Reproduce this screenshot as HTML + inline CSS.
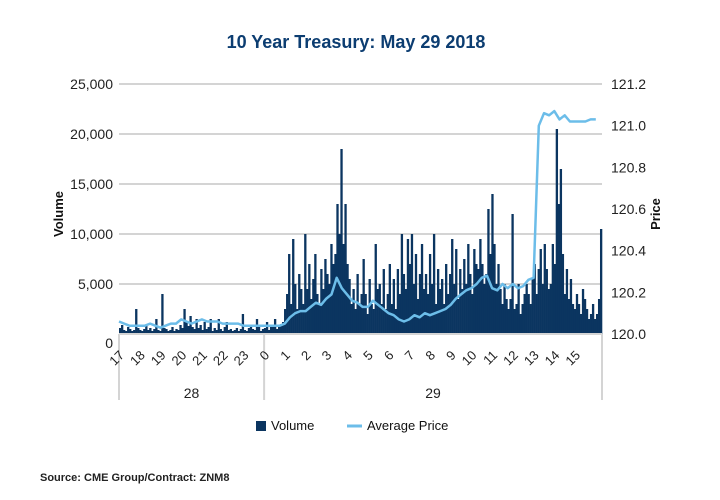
<!DOCTYPE html>
<html><head><meta charset="utf-8"><style>
body{margin:0;background:#fff;}
svg{display:block;font-family:"Liberation Sans",sans-serif;}
</style></head><body>
<svg id="chart" width="720" height="500">
<text x="356" y="48" text-anchor="middle" font-size="18" font-weight="bold" fill="#0c3d71">10 Year Treasury: May 29 2018</text>
<g id="grid"></g>
<g id="bars"></g>
<g id="line"></g>
<g id="axes"></g>
<text transform="translate(63,214) rotate(-90)" text-anchor="middle" font-size="13" font-weight="bold" fill="#111">Volume</text>
<text transform="translate(660,214) rotate(-90)" text-anchor="middle" font-size="13" font-weight="bold" fill="#111">Price</text>
<g>
<g><rect x="256" y="421" width="10" height="10" fill="#0b3560"/><text x="271" y="430" font-size="13" fill="#111">Volume</text></g>
<g><line x1="347" y1="426" x2="362" y2="426" stroke="#6cbde9" stroke-width="3"/><text x="367" y="430" font-size="13" fill="#111">Average Price</text></g>
</g>
<text x="40" y="481" font-size="11" font-weight="bold" fill="#222">Source: CME Group/Contract: ZNM8</text>
</svg>
<script>
const volumeTicks=[0,5000,10000,15000,20000,25000];
const volumeTickLabels=["0","5,000","10,000","15,000","20,000","25,000"];
const priceTicks=[120.0,120.2,120.4,120.6,120.8,121.0,121.2];
const priceTickLabels=["120.0","120.2","120.4","120.6","120.8","121.0","121.2"];
const hourLabels=["17","18","19","20","21","22","23","0","1","2","3","4","5","6","7","8","9","10","11","12","13","14","15"];
const dayLabels=["28","29"];
const volumeDay28=[600,900,400,300,700,500,300,400,2500,600,400,300,500,800,400,600,300,500,1500,400,300,4000,600,500,300,400,700,300,500,400,
900,600,2500,1200,800,1800,700,500,1500,600,900,400,1200,500,700,1500,300,600,400,1500,500,300,700,1200,400,500,300,400,600,300,
500,2000,400,300,600,900,500,400,1500,700,300,500];
const volumeDay29=[600,1200,400,900,700,1500,500,800,1000,1200,
2500,4000,8000,3000,9500,5000,2500,6000,4500,3000,
10000,4500,7000,3500,5500,8000,4000,3000,6500,4500,
7500,6000,5000,9000,7000,8000,13000,10000,18500,9000,
13000,7000,5500,3000,4500,2500,6000,3000,4000,7500,
4000,2000,5500,3000,2500,9000,4500,5000,3000,6500,
2500,4000,7000,3000,5500,2500,6500,4000,10000,6000,
4500,9500,7000,10000,5000,8000,3500,6000,9000,4500,
6000,4000,8000,5000,10000,3000,6500,4500,5500,3000,
7000,4000,6000,9500,5000,8500,3500,6500,4500,7500,
5000,9000,6000,4000,8500,7000,6500,9500,7000,5000,
6000,12500,8000,14000,9000,5000,7000,4500,3000,5000,
3500,2500,3500,12000,2500,3000,5000,2000,3000,4000,
5000,4000,3000,5500,7000,4000,6500,8500,5000,9000,
6500,4500,5000,9000,7000,20500,13000,16500,8000,4000,
6500,3500,5500,3000,2500,4000,3000,2000,4500,3500,
2500,1500,2000,3000,1500,2000,3500,10500];
const priceDay28=[120.06,120.05,120.04,120.04,120.04,120.04,120.05,120.04,120.03,120.04,120.05,120.05,120.07,120.06,120.05,120.06,120.07,120.06,120.06,120.06,120.05,120.05,120.05,120.05,120.04,120.04,120.04,120.04];
const priceDay29=[120.04,120.04,120.04,120.04,120.05,120.08,120.10,120.11,120.11,120.13,120.15,120.14,120.17,120.19,120.27,120.22,
120.19,120.16,120.15,120.13,120.13,120.16,120.14,120.12,120.10,120.09,120.07,120.06,120.07,120.09,120.08,120.10,
120.09,120.10,120.11,120.12,120.14,120.17,120.19,120.21,120.22,120.24,120.27,120.28,120.22,120.21,120.24,120.22,
120.24,120.22,120.23,120.26,120.27,121.00,121.06,121.05,121.07,121.03,121.05,121.02,121.02,121.02,121.02,121.03,121.03];

const NS="http://www.w3.org/2000/svg";
const X0=119,X1=602,Y0=334,Y1=84,HOURS=23.3;
const yVol=v=>Y0-(v/25000)*(Y0-Y1);
const yPrice=p=>Y0-((p-120)/1.2)*(Y0-Y1);
const xHour=h=>X0+h/HOURS*(X1-X0);
function mk(tag,attrs,parent,text){const e=document.createElementNS(NS,tag);for(const k in attrs)e.setAttribute(k,attrs[k]);if(text!==undefined)e.textContent=text;parent.appendChild(e);return e;}
const grid=document.getElementById('grid'),axes=document.getElementById('axes');
volumeTicks.forEach((v,i)=>{
 if(v>0){const g=mk('line',{x1:X0,x2:X1,y1:yVol(v),y2:yVol(v),stroke:'#d4d4d4','stroke-width':2},grid);
 
 }
 const t=mk('text',{x:113,y:yVol(v)+5+(v===0?9:0),'text-anchor':'end','font-size':14,fill:'#222'},axes,volumeTickLabels[i]);
 
 
});
priceTicks.forEach((p,i)=>{
 const t=mk('text',{x:611,y:yPrice(p)+5,'font-size':14,fill:'#222'},axes,priceTickLabels[i]);
 
 
});
const vols=volumeDay28.concat(volumeDay29);
const bars=document.getElementById('bars');
const bw=(X1-X0)/vols.length;
vols.forEach((v,i)=>{
 const r=mk('rect',{x:X0+i*bw,y:yVol(v),width:bw+0.3,height:Y0-yVol(v),fill:'#0b3560'},bars);
 
 
});
const prices=priceDay28.concat(priceDay29);
const pts=prices.map((p,i)=>xHour(i/4).toFixed(1)+','+yPrice(p).toFixed(1)).join(' ');
const pl=mk('polyline',{points:pts,fill:'none',stroke:'#6cbde9','stroke-width':2.5,'stroke-linejoin':'round'},document.getElementById('line'));


const base=mk('line',{x1:X0,x2:X1,y1:Y0,y2:Y0,stroke:'#d4d4d4','stroke-width':2},axes);


[0,7,HOURS].forEach(h=>{
 const l=mk('line',{x1:xHour(h),x2:xHour(h),y1:Y0,y2:400,stroke:'#d4d4d4','stroke-width':2},axes);
 
 
});
hourLabels.forEach((lab,i)=>{
 const x=xHour(i)+6,y=356;
 const t=mk('text',{x:x,y:y,'text-anchor':'end','font-size':13,fill:'#222',transform:`rotate(-45 ${x} ${y})`},axes,lab);
 
 
});
dayLabels.forEach((d,i)=>{
 const cx=i===0?(xHour(0)+xHour(7))/2:(xHour(7)+xHour(HOURS))/2;
 const t=mk('text',{x:cx,y:398,'text-anchor':'middle','font-size':14,fill:'#222'},axes,d);
 
 
});
</script>
</body></html>
